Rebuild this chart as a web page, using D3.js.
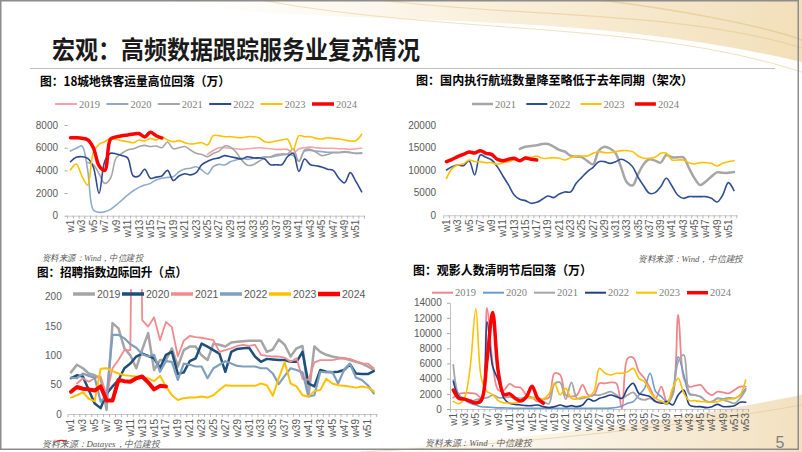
<!DOCTYPE html>
<html><head><meta charset="utf-8">
<script src="https://cdn.jsdelivr.net/npm/d3@7"></script>
<style>
html,body{margin:0;padding:0;background:#fff;}
svg{display:block;}
</style></head>
<body>
<svg id="c" width="802" height="452"></svg>
<script>
// ---------------- DATA ----------------
const weeks52 = Array.from({length:52},(_,i)=>"w"+(i+1));
const weeks53 = Array.from({length:53},(_,i)=>"w"+(i+1));

// Chart 1: 18城地铁客运量（万）
const metroYears = ["2019","2020","2021","2022","2023","2024"];
const metroTicks = [0,2000,4000,6000,8000];
const metro2019 = [null,null,null,null,null,null,null,null,null,null,null,null,null,null,null,null,null,null,null,null,null,null,null,null,
  5400,5750,6000,6000,5950,5900,5850,5900,5950,6000,5950,5900,5850,5850,5850,5500,5900,6000,6050,6000,5950,5950,5950,5900,5900,5850,5900,5950];
const metro2020 = [5700,5940,6150,4030,500,300,350,560,940,1380,1820,2200,2500,2700,2850,3150,3300,3380,3440,3880,4120,4180,4320,4030,3680,4320,4530,4470,4760,4910,5060,4970,5060,5060,5200,5150,5260,5350,5410,5300,4800,5700,5750,5700,5650,5600,5600,5550,5600,5550,5500,5500];
const metro2021 = [null,null,null,4700,4500,3700,2850,3300,5100,5500,5800,5900,6100,6200,6100,6150,6000,6500,5900,6000,6100,5800,5500,5400,5200,5500,5700,6150,6050,5600,4900,4450,4500,4800,5100,5200,5400,5450,5450,5900,4800,5800,5850,5600,5300,5400,5550,5600,5650,5600,5500,5550];
const metro2022 = [4760,5150,5200,5060,4300,1970,4800,5500,5450,5300,5100,3500,3500,4100,3300,3400,3500,4000,3100,3500,3700,3600,3800,4500,4800,5000,5100,5300,5200,5100,5000,5200,5100,5100,5000,4500,4500,4500,5200,5500,3900,5000,4500,4400,4300,4100,4000,3300,2900,3800,3000,2100];
const metro2023 = [4030,4560,3500,2700,5600,6300,6530,6820,6740,6620,6530,6440,6680,6590,6820,6680,6970,6680,6530,6620,6440,6320,6380,6440,6240,7060,7060,6970,6970,6910,6880,6970,6970,6880,6530,6470,6590,6680,6740,5800,7060,6970,6970,6820,6760,6880,6820,6760,6680,6590,6620,7180];
const metro2024 = [6880,6870,6830,6700,6000,4400,4000,6750,6950,7050,7120,7200,7250,6950,7350,7050,6850];

// Chart 2: 国内执行航班数量（架次）
const flightYears = ["2021","2022","2023","2024"];
const flightTicks = [0,5000,10000,15000,20000];
const flight2021 = [null,null,null,null,null,null,null,null,null,null,null,null,null,
  14690,15200,15350,15500,15790,15790,15200,14470,14100,13200,13000,12900,12000,11300,14300,15200,14800,13730,10500,7300,6600,9150,11370,12400,12100,11660,13360,12840,12840,12840,10500,8200,6700,7500,8600,9500,9400,9400,9600];
const flight2022 = [10040,10780,11150,11000,12100,8930,13360,12840,12250,10780,8710,6720,4500,3540,3250,2660,2880,3540,4280,3910,4720,5170,5170,7090,8410,9670,10630,11880,11880,11510,11880,12400,11880,10780,8410,6490,4870,5020,6350,8190,6490,4500,3760,4130,4130,4130,4130,3760,2950,4500,7230,5460];
const flight2023 = [8190,10400,11150,11370,12250,11880,11880,11660,11660,11290,11660,11880,12250,12250,12840,12840,13140,12620,12620,12770,12620,12250,12770,13140,13140,13140,13730,14100,13880,13880,14100,14320,14320,14100,13140,12620,12620,12840,13730,13730,12250,12250,12250,11660,11370,11660,11660,11510,10920,11510,11880,12100];
const flight2024 = [11880,12400,12990,13500,14020,13800,14320,13730,13500,12400,12100,12400,12620,12100,12700,12400,12250];

// Chart 3: 招聘指数（点）
const hireYears = ["2019","2020","2021","2022","2023","2024"];
const hireTicks = [0,50,100,150,200];
const hire2019 = [71,84,78,69,66,61,7,155,146,112,100,78,110,138,75,92,92,112,81,109,115,115,100,92,120,118,115,122,123,124,125,125,125,106,110,127,118,98,112,116,30,115,106,101,98,96,95,92,89,86,81,75];
const hire2020 = [61,66,64,41,18,10,35,47,58,78,86,98,103,99,95,78,101,106,68,71,90,95,120,115,109,103,72,106,111,112,113,98,89,94,93,92,92,89,89,106,52,47,75,72,71,72,75,85,69,68,68,73];
const hire2021 = [null,52,61,55,61,64,32,78,92,109,109,1000,160,149,165,126,157,148,98,125,133,131,130,128,126,106,109,112,116,118,116,118,101,99,98,98,96,89,95,60,58,88,92,92,92,94,95,94,90,86,86,78];
const hire2022 = [62,61,69,65,62,21,32,135,135,129,119,113,102,98,101,72,90,89,58,86,84,81,81,61,78,84,90,86,82,81,81,81,78,78,69,51,65,78,75,71,30,32,72,71,72,52,75,86,62,58,49,35];
const hire2023 = [28,32,37,26,22,77,78,73,69,66,65,64,62,61,56,65,47,32,24,27,28,28,30,28,32,41,49,48,48,48,48,48,52,49,31,61,88,52,47,32,30,39,41,60,52,49,48,47,45,47,45,39];
const hire2024 = [38,46,43,42,40,47,23,23,58,56,55,61,64,54,42,48,47];

// Chart 4: 观影人数（万）
const cinemaYears = ["2019","2020","2021","2022","2023","2024"];
const cinemaTicks = [0,2000,4000,6000,8000,10000,12000,14000];
const cinema2019 = [1500,2000,2100,2100,2000,1500,13300,6000,2500,2500,3300,2900,2800,1800,1500,1000,1300,1500,4700,4480,1840,1620,1840,3160,1840,1840,3380,3380,3510,3380,0,6670,6760,4920,4040,2720,1400,2940,970,1840,12380,4040,2940,3070,3160,2280,1840,2280,2190,2060,2500,2940,2940];
const cinema2020 = [3820,1840,1190,750,530,300,250,200,150,150,120,100,100,100,100,100,100,100,100,100,100,100,100,100,100,100,100,100,120,200,400,750,970,1840,2720,4700,2280,1620,970,2280,6890,4480,1930,1840,1620,970,970,1400,1320,1490,1400,1840,2720];
const cinema2021 = [5800,1840,1400,970,1190,1400,1490,1840,1500,1500,1600,1500,1400,1600,1500,1500,1000,700,3300,3500,1300,3500,1400,1400,1620,1840,1840,2060,2280,1840,1400,1840,2190,1400,1190,1400,970,970,610,1840,6230,7110,2060,1840,1620,1050,970,1400,1190,970,750,1400,2500];
const cinema2022 = [3600,1620,1320,970,750,970,11500,5600,3800,1400,750,610,530,440,440,530,310,180,310,530,310,440,310,530,1320,1050,1400,1620,1840,1620,1400,2720,3380,2060,1840,1620,970,750,970,530,1840,2500,530,310,310,180,310,610,310,310,440,880,880];
const cinema2023 = [1000,700,1500,5500,13200,4000,2300,1900,1100,800,800,800,1000,1500,1400,1500,1300,2000,3380,1840,2720,1400,1320,1620,1620,2280,5350,4700,4480,4700,4700,4920,5350,4040,3600,2280,1400,1050,750,2720,4040,2060,1100,1100,970,970,880,970,1190,1320,1400,1840,3820];
const cinema2024 = [2500,1400,1300,1050,800,1200,6500,12700,4900,1900,2000,1400,1050,1600,3000,1400,750];

// ---------------- DRAW ----------------
const svg = d3.select("#c");
const CJK = "'Noto Sans CJK SC','Noto Sans',sans-serif";
const SANS = "'Liberation Sans',Arial,sans-serif";
const SERIF = "'Liberation Serif','Times New Roman',serif";

// background decoration
const defs = svg.append("defs");
const gTop = defs.append("linearGradient").attr("id","gTop").attr("x1","0").attr("x2","1").attr("y1","0").attr("y2","0");
gTop.append("stop").attr("offset","0").attr("stop-color","#fdf8ee").attr("stop-opacity",0);
gTop.append("stop").attr("offset","0.5").attr("stop-color","#f8ecd3").attr("stop-opacity",0.8);
gTop.append("stop").attr("offset","1").attr("stop-color","#f1dcb2").attr("stop-opacity",0.9);
const gBot = defs.append("linearGradient").attr("id","gBot").attr("x1","0").attr("x2","1").attr("y1","0").attr("y2","0");
gBot.append("stop").attr("offset","0").attr("stop-color","#f8eddb").attr("stop-opacity",0);
gBot.append("stop").attr("offset","1").attr("stop-color","#f1ddb8").attr("stop-opacity",0.9);

svg.append("rect").attr("width",802).attr("height",452).attr("fill","#fff");
const deco = svg.append("g");
deco.append("path").attr("d","M150,0 C330,30 560,5 802,62 L802,0 Z").attr("fill","url(#gTop)");
deco.append("path").attr("d","M260,0 C450,35 640,20 802,72").attr("fill","none").attr("stroke","#ead3a4").attr("stroke-width",1).attr("opacity",0.7);
deco.append("path").attr("d","M380,0 C520,18 680,10 802,48").attr("fill","none").attr("stroke","#e6c98f").attr("stroke-width",1.2).attr("opacity",0.6);
deco.append("path").attr("d","M600,0 C680,10 760,25 802,40").attr("fill","none").attr("stroke","#ddbb7a").attr("stroke-width",1.5).attr("opacity",0.5);
deco.append("path").attr("d","M300,452 C480,446 650,425 802,395 L802,452 Z").attr("fill","url(#gBot)");
deco.append("path").attr("d","M360,452 C520,444 670,428 802,405").attr("fill","none").attr("stroke","#e3c78f").attr("stroke-width",1).attr("opacity",0.6);

// slide frame
svg.append("rect").attr("x",0.75).attr("y",0.75).attr("width",797.5).attr("height",448.5)
  .attr("fill","none").attr("stroke","#8c8c8c").attr("stroke-width",1.5);

// title
svg.append("text").attr("x",52).attr("y",59).text("宏观：高频数据跟踪服务业复苏情况")
  .attr("font-family",CJK).attr("font-weight",700).attr("font-size",25).attr("fill","#1a1a1a")
  .attr("textLength",368).attr("lengthAdjust","spacingAndGlyphs");
svg.append("line").attr("x1",30).attr("x2",775).attr("y1",68.5).attr("y2",68.5).attr("stroke","#bfbfbf").attr("stroke-width",1);

function chartTitle(t,x,y,len){
  svg.append("text").attr("x",x).attr("y",y).text(t).attr("font-family",CJK).attr("font-weight",700)
    .attr("font-size",12.5).attr("fill","#000").attr("textLength",len).attr("lengthAdjust","spacingAndGlyphs");
}
function source(t,x,y,len){
  svg.append("text").attr("x",x).attr("y",y).text(t).attr("font-family",SERIF).attr("font-style","italic")
    .attr("font-size",9).attr("fill","#595959").attr("textLength",len).attr("lengthAdjust","spacingAndGlyphs");
}

function chart(cfg){
  const g = svg.append("g");
  const x = d3.scaleBand().domain(cfg.cats).range(cfg.xRange).padding(0);
  const y = d3.scaleLinear().domain(cfg.yDomain).range(cfg.yRange);
  const px = c => x(c) + x.bandwidth()/2;
  const y0 = cfg.yRange[0];

  // x axis
  const xa = d3.axisBottom(x).tickValues(cfg.cats.filter((c,i)=>i%2===0)).tickSize(0).tickSizeOuter(0);
  const gx = g.append("g").attr("transform",`translate(0,${y0})`).call(xa);
  gx.select(".domain").attr("stroke","#c8c8c8").attr("stroke-width",1);
  gx.selectAll(".tick text").attr("transform","rotate(-90)").attr("x",-cfg.xLabGap).attr("y",0)
    .attr("dy","0.35em").attr("text-anchor","end").attr("font-size",10).attr("font-family",SANS).attr("fill","#595959");
  g.append("g").selectAll("line").data(d3.range(cfg.cats.length+1)).join("line")
    .attr("x1",i=>cfg.xRange[0]+i*x.step()).attr("x2",i=>cfg.xRange[0]+i*x.step())
    .attr("y1",y0).attr("y2",y0+3).attr("stroke","#a6a6a6").attr("stroke-width",0.8);

  // y axis
  const ya = d3.axisLeft(y).tickValues(cfg.yTicks).tickSize(cfg.yTickSize).tickSizeOuter(0).tickPadding(cfg.yPad).tickFormat(d3.format("d"));
  const gy = g.append("g").attr("transform",`translate(${cfg.yAxisX},0)`).call(ya);
  if(cfg.yLine){ gy.select(".domain").attr("stroke","#bfbfbf"); } else { gy.select(".domain").remove(); }
  gy.selectAll(".tick line").attr("stroke","#a6a6a6");
  gy.selectAll(".tick text").attr("font-size",10).attr("font-family",SANS).attr("fill","#595959");

  // lines
  let lg = g.append("g");
  if(cfg.clip){
    const id = "clip"+Math.round(cfg.xRange[0]);
    defs.append("clipPath").attr("id",id).append("rect")
      .attr("x",cfg.xRange[0]-5).attr("y",cfg.clip).attr("width",cfg.xRange[1]-cfg.xRange[0]+10).attr("height",y0-cfg.clip+5);
    lg.attr("clip-path",`url(#${id})`);
  }
  const line = d3.line().defined(d=>d!=null).x((d,i)=>px(cfg.cats[i])).y(d=>y(d)).curve(cfg.curve);
  cfg.series.forEach(s=>{
    lg.append("path").datum(s.values).attr("d",line).attr("fill","none").attr("stroke",s.color)
      .attr("stroke-width",s.width).attr("stroke-linejoin","round").attr("stroke-linecap","round");
  });

  // legend
  const L = cfg.legend;
  cfg.series.forEach((s,i)=>{
    const lx = L.x + i*L.step;
    g.append("line").attr("x1",lx).attr("x2",lx+L.len).attr("y1",L.y).attr("y2",L.y)
      .attr("stroke",s.color).attr("stroke-width",L.width(s));
    g.append("text").attr("x",lx+L.len+2).attr("y",L.y).attr("dy","0.35em").text(s.name)
      .attr("font-family",L.font).attr("font-size",L.size).attr("fill",L.color);
  });
}

const smooth = d3.curveCatmullRom.alpha(0.5);

// Chart 1
chartTitle("图：18城地铁客运量高位回落（万）",40,86,190);
const c1col = ["#f4a3a8","#8eabcb","#a6a6a6","#2e4a91","#ffc000","#ff0000"];
chart({
  cats:weeks52, xRange:[67.65,364.55], yDomain:[0,8000], yRange:[215.7,125], yTicks:metroTicks,
  yAxisX:67.65, yTickSize:3, yPad:6.65, yLine:false, xLabGap:4, curve:smooth,
  series:[metro2019,metro2020,metro2021,metro2022,metro2023,metro2024].map((v,i)=>({name:metroYears[i],values:v,color:c1col[i],width:i===5?3.5:1.6})),
  legend:{x:55,step:51.4,y:104,len:22,font:SERIF,size:10.5,color:"#7f7f7f",width:s=>s.name==="2024"?3.5:2}
});
source("资料来源：Wind，中信建投",42,261,101);

// Chart 2
chartTitle("图：国内执行航班数量降至略低于去年同期（架次）",416,85,277);
const c2col = ["#a6a6a6","#2f4f95","#ffc000","#ff0000"];
const c2w = [2.5,1.6,1.6,3.5];
chart({
  cats:weeks52, xRange:[443.7,736.8], yDomain:[0,20000], yRange:[215.3,125], yTicks:flightTicks,
  yAxisX:443.7, yTickSize:0, yPad:7.7, yLine:false, xLabGap:4, curve:smooth,
  series:[flight2021,flight2022,flight2023,flight2024].map((v,i)=>({name:flightYears[i],values:v,color:c2col[i],width:c2w[i]})),
  legend:{x:472,step:54.3,y:104,len:21,font:SERIF,size:10.5,color:"#7f7f7f",width:s=>s.name==="2024"?3.5:(s.name==="2021"?2.5:2)}
});
source("资料来源：Wind，中信建投",638,262,105);

// Chart 3
chartTitle("图：招聘指数边际回升（点）",37,276.5,150);
const c3col = ["#a5a5a5","#1f4e79","#f28b8e","#7f9fbf","#ffc000","#ff0000"];
const c3w = [2.5,2.5,1.8,2.2,2,4];
chart({
  cats:weeks52, xRange:[68,376.7], yDomain:[0,200], yRange:[414,296.7], yTicks:hireTicks,
  yAxisX:68, yTickSize:0, yPad:6.3, yLine:false, xLabGap:5, curve:d3.curveLinear, clip:289,
  series:[hire2019,hire2020,hire2021,hire2022,hire2023,hire2024].map((v,i)=>({name:hireYears[i],values:v,color:c3col[i],width:c3w[i]})),
  legend:{x:73,step:49,y:294,len:22,font:SANS,size:10.5,color:"#595959",width:s=>s.name==="2024"?4.5:3.5}
});
source("资料来源：Datayes，中信建投",42,447,118);
svg.append("path").attr("d","M56,441.5 Q61,439.5 67,441").attr("fill","none").attr("stroke","#e02020").attr("stroke-width",1.2);

// Chart 4
chartTitle("图：观影人数清明节后回落（万）",413,275,179);
const c4col = ["#f0868c","#6a9cd0","#a5a5a5","#203f87","#ffc000","#ff0000"];
const c4w = [1.8,1.6,1.8,1.6,1.6,3.5];
chart({
  cats:weeks53, xRange:[450.5,748.5], yDomain:[0,14000], yRange:[409,302.7], yTicks:cinemaTicks,
  yAxisX:450, yTickSize:3, yPad:5.3, yLine:true, xLabGap:4, curve:smooth,
  series:[cinema2019,cinema2020,cinema2021,cinema2022,cinema2023,cinema2024].map((v,i)=>({name:cinemaYears[i],values:v,color:c4col[i],width:c4w[i]})),
  legend:{x:432,step:51,y:292.7,len:21,font:SERIF,size:10.5,color:"#7f7f7f",width:s=>s.name==="2024"?3.5:2}
});
source("资料来源：Wind，中信建投",425,446,107);

// page number
svg.append("text").attr("x",780).attr("y",448).attr("text-anchor","middle").text("5")
  .attr("font-family",SANS).attr("font-size",16).attr("fill","#7f7f7f");
</script>
</body></html>
